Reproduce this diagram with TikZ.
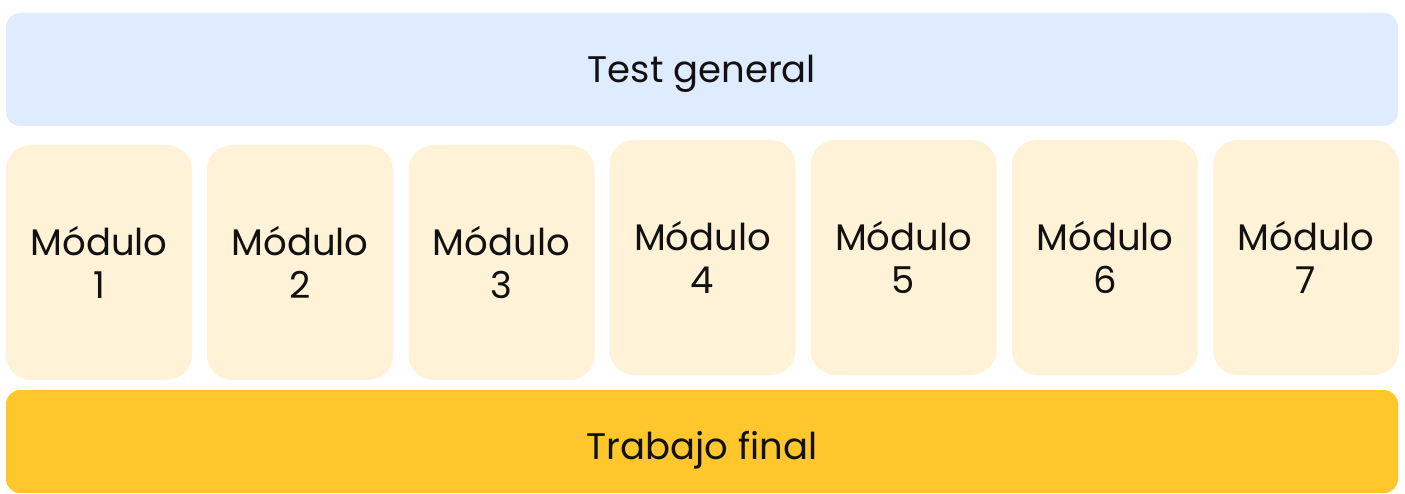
\documentclass[tikz,border=0pt]{standalone}
\usepackage{fontspec}
\setmainfont{Poppins}
\definecolor{topblue}{HTML}{DFEBFE}
\definecolor{modyellow}{HTML}{FFF2D6}
\definecolor{finalyellow}{HTML}{FFC72C}
\definecolor{txt}{HTML}{111111}
\tikzset{
  bar/.style={inner sep=0pt, minimum width=1392pt, text=txt, text depth=0pt,
    font=\fontsize{37}{42}\selectfont, rounded corners=14pt},
  modbox/.style={inner sep=0pt, minimum width=186pt, minimum height=235pt,
    fill=modyellow, rounded corners=25pt, text=txt, align=center,
    font=\fontsize{37}{43}\selectfont},
}
\begin{document}
\begin{tikzpicture}[x=1pt,y=1pt]
\useasboundingbox (0,0) rectangle (1405,-494);
\node[bar, fill=topblue, minimum height=113pt, text height=27pt] (test) at (702,-69.5) {Test general};
\node[modbox] (m1) at (99,-262.5) {Módulo\\1};
\node[modbox] (m2) at (300,-262.5) {Módulo\\2};
\node[modbox] (m3) at (501.5,-262.5) {Módulo\\3};
\node[modbox] (m4) at (702.5,-257.5) {Módulo\\4};
\node[modbox] (m5) at (903.5,-257.5) {Módulo\\5};
\node[modbox] (m6) at (1105,-257.5) {Módulo\\6};
\node[modbox] (m7) at (1306,-257.5) {Módulo\\7};
\node[bar, fill=finalyellow, minimum height=103pt, text height=35pt] (final) at (702,-441.5) {Trabajo final};
\end{tikzpicture}
\end{document}
